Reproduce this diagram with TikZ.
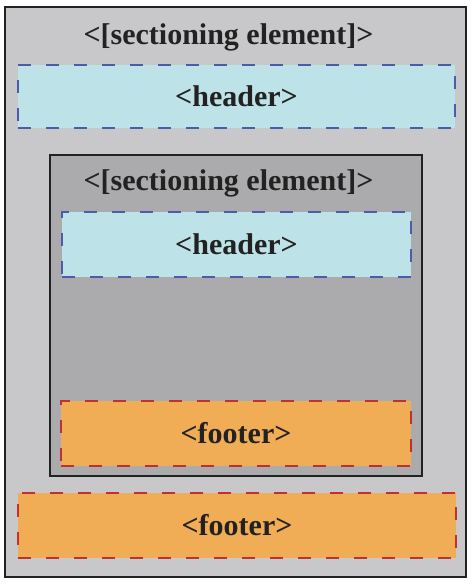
\documentclass[tikz,border=0pt]{standalone}
\usepackage{fontspec}
\setmainfont{Liberation Serif}
\usepackage{tikz}
\usetikzlibrary{positioning}

\definecolor{outergray}{HTML}{C8C7C9}
\definecolor{innergray}{HTML}{ABAAAC}
\definecolor{headerfill}{HTML}{BDE3E8}
\definecolor{headerline}{HTML}{4A5EA8}
\definecolor{footerfill}{HTML}{F0AD55}
\definecolor{footerline}{HTML}{C0302F}
\definecolor{boxline}{HTML}{222222}

\begin{document}
\begin{tikzpicture}[
		x=1pt, y=-1pt,
		section/.style={rectangle, draw=boxline, line width=2pt, inner sep=0pt},
		title/.style={font=\fontsize{30}{35}\selectfont\bfseries, text=boxline, inner sep=0pt},
		part/.style={rectangle, line width=2.5pt, dash pattern=on 13pt off 15pt, inner sep=0pt,
			font=\fontsize{30}{35}\selectfont\bfseries, text=boxline},
		header/.style={part, draw=headerline, fill=headerfill},
		footer/.style={part, draw=footerline, fill=footerfill}]
		\useasboundingbox (0,0) rectangle (474,587);

		\node[section, fill=outergray, minimum width=461, minimum height=570] (outer) at (235.5,292) {};
		\node[title] (outertitle) at (228.5,37) {<[sectioning element]>};
		\node[header, minimum width=437, minimum height=63] (outerheader) at (236.5,96.5) {<header>};

		\node[section, fill=innergray, minimum width=372, minimum height=321] (inner) at (236,315.5) {};
		\node[title] (innertitle) at (228.5,183) {<[sectioning element]>};
		\node[header, minimum width=349, minimum height=65] (innerheader) at (236.5,244.5) {<header>};
		\node[footer, minimum width=350, minimum height=65] (innerfooter) at (236,433.5) {<footer>};

		\node[footer, minimum width=438, minimum height=65] (outerfooter) at (237,525.5) {<footer>};
\end{tikzpicture}
\end{document}
